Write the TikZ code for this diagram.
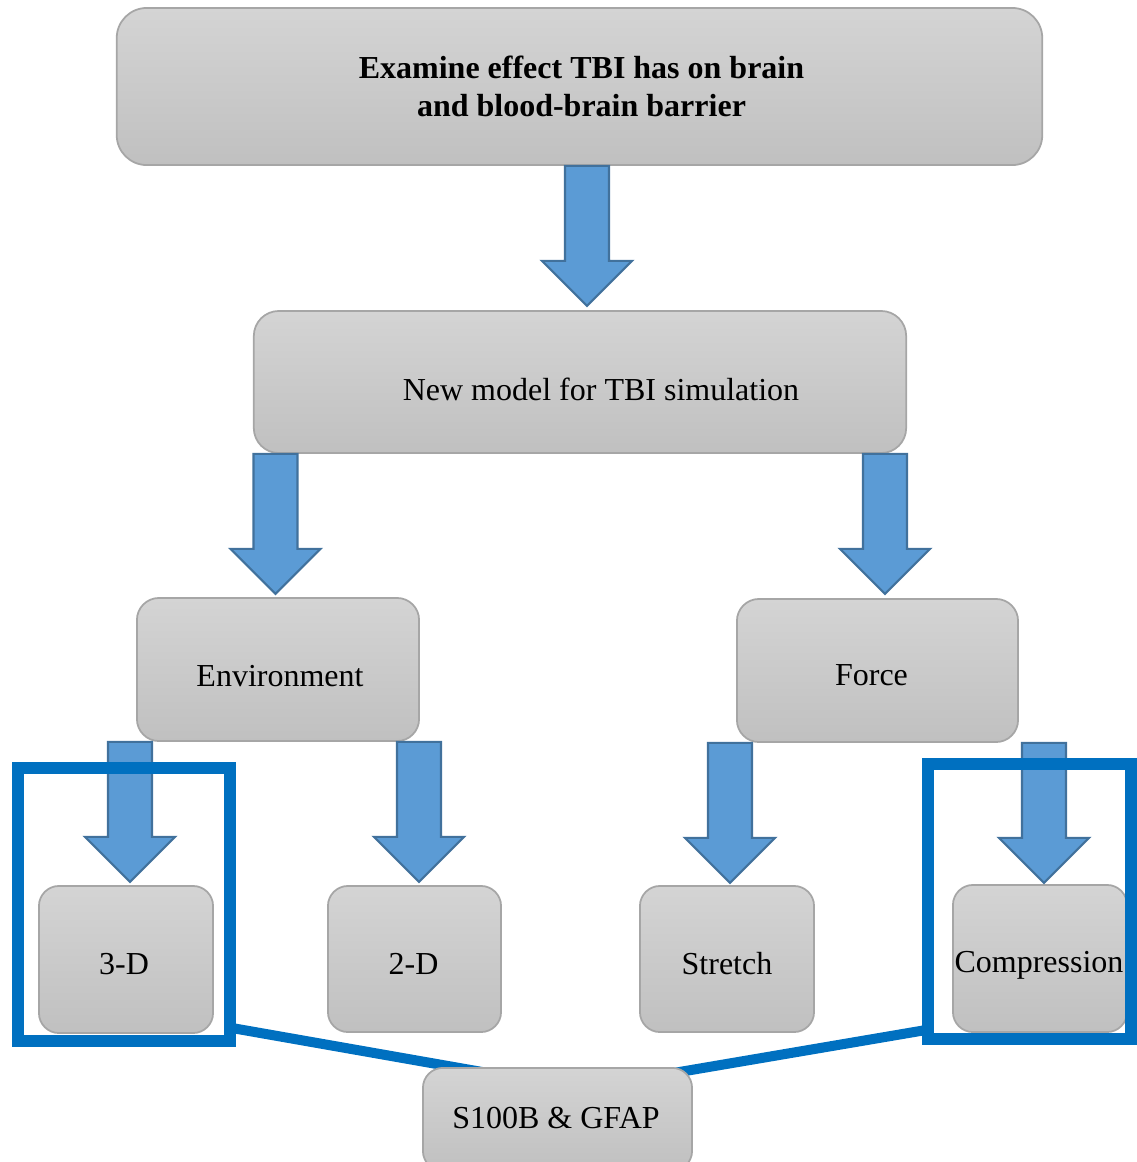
\documentclass[tikz,border=0pt]{standalone}
\usepackage{fontspec}
\setmainfont{Liberation Serif}
\definecolor{arrfill}{HTML}{5B9BD5}
\definecolor{arrline}{HTML}{41719C}
\definecolor{frameblue}{HTML}{0070C0}
\definecolor{boxtop}{HTML}{D4D4D4}
\definecolor{boxbot}{HTML}{C0C0C0}
\definecolor{boxline}{HTML}{A6A6A6}
\newcommand{\boxfont}{\fontsize{9.1}{10.8}\selectfont}
\tikzset{
  gbox/.style={draw=boxline, line width=0.5pt, top color=boxtop, bottom color=boxbot,
    inner sep=0pt, align=center, font=\boxfont},
  bluearrow/.pic={
    \draw[fill=arrfill, draw=arrline, line width=0.6pt]
      (-22,0) -- (22,0) -- (22,95) -- (45,95) -- (0,140) -- (-45,95) -- (-22,95) -- cycle;
  },
  bframe/.style={draw=frameblue, line width=0.115cm},
  bconn/.style={draw=frameblue, line width=0.1cm},
}
\begin{document}
\begin{tikzpicture}[x=0.01cm,y=-0.01cm]
\useasboundingbox (0,0) rectangle (1137,1162);
% connectors to the bottom box (behind it)
\coordinate (lstart) at (232,1028);
\coordinate (lend) at (505,1076);
\coordinate (rstart) at (926,1030);
\coordinate (rend) at (650,1077);
\draw[bconn] (lstart) -- (lend);
\draw[bconn] (rstart) -- (rend);
% boxes
\node[gbox, minimum width=9.25cm, minimum height=1.57cm, rounded corners=0.3cm,
  label={[font=\boxfont\bfseries, align=center, xshift=0.02cm]center:Examine effect TBI has on brain\\and blood-brain barrier}]
  (goal) at (579.5,86.5) {};
\node[gbox, minimum width=6.52cm, minimum height=1.42cm, rounded corners=0.25cm,
  label={[font=\boxfont, xshift=0.21cm, yshift=-0.07cm]center:New model for TBI simulation}]
  (model) at (580,382) {};
\node[gbox, minimum width=2.82cm, minimum height=1.43cm, rounded corners=0.22cm,
  label={[font=\boxfont, xshift=0.02cm, yshift=-0.07cm]center:Environment}]
  (env) at (278,669.5) {};
\node[gbox, minimum width=2.81cm, minimum height=1.43cm, rounded corners=0.22cm,
  label={[font=\boxfont, xshift=-0.06cm, yshift=-0.05cm]center:Force}]
  (force) at (877.5,670.5) {};
\node[gbox, minimum width=1.74cm, minimum height=1.47cm, rounded corners=0.2cm,
  label={[font=\boxfont, xshift=-0.02cm, yshift=-0.05cm]center:3-D}]
  (threed) at (126,959.5) {};
\node[gbox, minimum width=1.73cm, minimum height=1.46cm, rounded corners=0.2cm,
  label={[font=\boxfont, xshift=-0.01cm, yshift=-0.05cm]center:2-D}]
  (twod) at (414.5,959) {};
\node[gbox, minimum width=1.74cm, minimum height=1.46cm, rounded corners=0.2cm,
  label={[font=\boxfont, yshift=-0.05cm]center:Stretch}]
  (stretch) at (727,959) {};
\node[gbox, minimum width=1.74cm, minimum height=1.47cm, rounded corners=0.2cm,
  label={[font=\boxfont, xshift=-0.01cm, yshift=-0.07cm]center:Compression}]
  (compr) at (1040,958.5) {};
\node[gbox, minimum width=2.69cm, minimum height=1.03cm, rounded corners=0.2cm, anchor=north]
  (marker) at (557.5,1067) {};
\node[font=\boxfont] (markertext) at (556,1118) {S100B \& GFAP};
% block arrows
\pic at (goal.south -| 587,0) {bluearrow};
\pic at (model.south -| 275.5,0) {bluearrow};
\pic at (model.south -| 885,0) {bluearrow};
\pic at (env.south -| 130,0) {bluearrow};
\pic at (env.south -| 419,0) {bluearrow};
\pic at (force.south -| 730,0) {bluearrow};
\pic at (force.south -| 1044,0) {bluearrow};
% highlight frames
\node[bframe, minimum width=2.12cm, minimum height=2.73cm, inner sep=0pt] (lframe) at (124,904.5) {};
\node[bframe, minimum width=2.03cm, minimum height=2.75cm, inner sep=0pt] (rframe) at (1029.5,901.5) {};
\end{tikzpicture}
\end{document}
